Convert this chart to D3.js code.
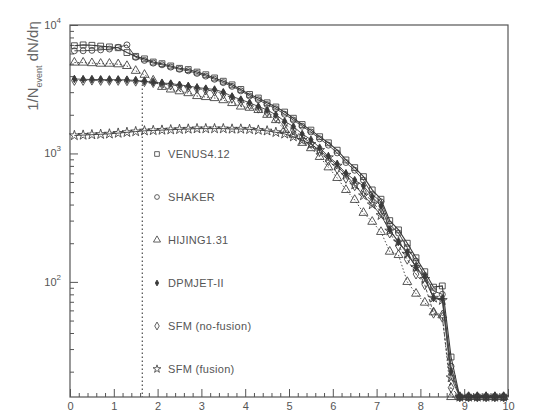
<!DOCTYPE html>
<html>
<head>
<meta charset="utf-8">
<script src="https://cdn.jsdelivr.net/npm/d3@7"></script>
<style>
  body { margin: 0; background: #fff; }
  svg { font-family: "Liberation Sans", "DejaVu Sans", sans-serif; }
</style>
</head>
<body>
<div id="chart"></div>
<script>
// pseudorapidity bins
var eta = [0.1,0.3,0.5,0.7,0.9,1.1,1.3,1.5,1.7,1.9,2.1,2.3,2.5,2.7,2.9,3.1,3.3,3.5,3.7,3.9,
           4.1,4.3,4.5,4.7,4.9,5.1,5.3,5.5,5.7,5.9,6.1,6.3,6.5,6.7,6.9,7.1,7.3,7.5,7.7,7.9,
           8.1,8.3,8.5,8.7,8.9,9.1,9.3,9.5,9.7,9.9];

var venus = [6900,7000,6950,6850,6750,6650,6100,5700,5450,5150,5000,4800,4600,4500,4300,4100,3870,3650,3420,3150,
             2880,2700,2480,2300,2100,1880,1680,1520,1350,1210,1060,890,775,660,520,440,300,254,200,154,
             120,91,93,26,0,0,0,0,0,0];
var shaker = [6300,6300,6350,6400,6500,6700,7000,5600,5300,5050,4900,4700,4520,4400,4200,4000,3780,3560,3330,3070,
              2800,2620,2400,2230,2020,1820,1630,1470,1300,1160,1010,850,740,620,480,420,280,240,185,145,
              112,85,80,22,0,0,0,0,0,0];
var hijing = [5100,5100,5050,5000,5000,4950,4800,4400,4100,3700,3300,3150,3050,2950,2800,2750,2700,2600,2470,2320,
              2270,2180,2000,1820,1530,1400,1210,1100,940,780,645,520,435,345,294,245,172,162,100,81,
              69,58,55,0,0,0,0,0,0,0];
var dpmjet = [3800,3780,3760,3760,3750,3750,3740,3700,3650,3580,3530,3500,3420,3350,3260,3200,3150,3000,2780,2630,
              2480,2320,2180,2000,1780,1620,1420,1280,1110,950,830,700,620,560,460,390,255,205,170,130,
              110,75,74,20,0,0,0,0,0,0];
var sfmNoFusion = [3700,3700,3720,3700,3700,3700,3680,3650,3620,3560,3480,3420,3350,3280,3200,3120,3050,2900,2700,2550,
                   2400,2250,2100,1900,1700,1520,1350,1200,1040,880,760,640,560,500,420,350,240,190,150,115,
                   95,57,53,15,0,0,0,0,0,0];
var sfmFusion = [1380,1390,1400,1410,1420,1440,1460,1480,1500,1510,1520,1530,1540,1550,1560,1560,1560,1560,1550,1550,
                 1540,1520,1500,1460,1420,1350,1270,1180,1060,930,800,680,570,470,400,330,250,205,165,130,
                 105,75,72,18,0,0,0,0,0,0];

var seriesNames = ["VENUS4.12", "SHAKER", "HIJING1.31", "DPMJET-II", "SFM (no-fusion)", "SFM (fusion)"];
var seriesValues = [venus, shaker, hijing, dpmjet, sfmNoFusion, sfmFusion];
var seriesSymbols = ["square", "circle", "triangle", "smalldiamond", "diamond", "star"];
var seriesDash = [null, null, "1.5,2", null, "3,2", null];

var xTicks = [0,1,2,3,4,5,6,7,8,9,10];
var yTicks = [100, 1000, 10000];
var cutEta = 1.65, cutTop = 3700;

var width = 540, height = 415,
    margin = { top: 25, right: 32, bottom: 18, left: 70 };

var svg = d3.select("#chart").append("svg")
    .attr("width", width)
    .attr("height", height);

var x = d3.scaleLinear().domain([0, 10]).range([margin.left, width - margin.right]);
var y = d3.scaleLog().domain([12.7, 10000]).range([height - margin.bottom, margin.top]).clamp(true);
var yv = function(v){ return v > 0 ? y(v) : y.range()[0]; };

var ink = "#3a3a3a";

// frame
svg.append("rect")
    .attr("x", x(0)).attr("y", y(10000))
    .attr("width", x(10) - x(0)).attr("height", y.range()[0] - y(10000))
    .attr("fill", "none").attr("stroke", "#555").attr("stroke-width", 1.2);

// x axis, ticks pointing inward
var minorX = d3.range(0, 10.01, 0.2).filter(function(v){ return Math.abs(v - Math.round(v)) > 1e-6; });
svg.append("g")
    .attr("transform", "translate(0," + y.range()[0] + ")")
    .call(d3.axisBottom(x).tickValues(minorX).tickSize(-4).tickFormat(""))
    .call(function(g){ g.select(".domain").remove(); g.selectAll("line").attr("stroke", "#555"); });
svg.append("g")
    .attr("transform", "translate(0," + y.range()[0] + ")")
    .call(d3.axisBottom(x).tickValues(xTicks).tickSize(-8).tickPadding(5).tickFormat(d3.format("d")))
    .call(function(g){
        g.select(".domain").remove();
        g.selectAll("line").attr("stroke", "#555");
        g.selectAll("text").attr("fill", "#555").style("font-size", "11px");
    });

// y axis, log ticks
var minorY = [];
[10, 100, 1000].forEach(function(p){
    for (var k = 2; k <= 9; k++) if (p * k >= 12.7) minorY.push(p * k);
});
svg.append("g")
    .attr("transform", "translate(" + x(0) + ",0)")
    .call(d3.axisLeft(y).tickValues(minorY).tickSize(-4).tickFormat(""))
    .call(function(g){ g.select(".domain").remove(); g.selectAll("line").attr("stroke", "#555"); });
var yAxisG = svg.append("g")
    .attr("transform", "translate(" + x(0) + ",0)")
    .call(d3.axisLeft(y).tickValues(yTicks).tickSize(-8).tickFormat(""));
yAxisG.select(".domain").remove();
yAxisG.selectAll("line").attr("stroke", "#555");

var yLab = svg.append("g").selectAll("text")
    .data(yTicks).enter().append("text")
    .attr("x", x(0) - 9)
    .attr("y", function(d){ return y(d) + 4; })
    .attr("text-anchor", "end")
    .attr("fill", "#555")
    .style("font-size", "11px");
yLab.append("tspan").text("10");
yLab.append("tspan").attr("dy", -6).style("font-size", "8px")
    .text(function(d){ return Math.round(Math.log10(d)); });

// y title
var yTitle = svg.append("text")
    .attr("transform", "translate(38," + 66 + ") rotate(-90)")
    .attr("text-anchor", "middle")
    .attr("fill", "#666")
    .style("font-size", "15px");
yTitle.append("tspan").text("1/N");
yTitle.append("tspan").attr("dy", 4).style("font-size", "9px").text("event");
yTitle.append("tspan").attr("dy", -4).text(" dN/d\u03B7");

// vertical cut line
svg.append("line")
    .attr("x1", x(cutEta)).attr("x2", x(cutEta))
    .attr("y1", y(cutTop)).attr("y2", y.range()[0])
    .attr("stroke", ink).attr("stroke-width", 1.1)
    .attr("stroke-dasharray", "1.5,2.5");

// symbols
function symbolPath(type) {
    switch (type) {
        case "square": return d3.symbol(d3.symbolSquare, 34)();
        case "circle": return d3.symbol(d3.symbolCircle, 28)();
        case "triangle": return d3.symbol(d3.symbolTriangle, 34)();
        case "smalldiamond": return d3.symbol(d3.symbolDiamond, 16)();
        case "diamond": return d3.symbol(d3.symbolDiamond, 28)();
        case "star": return d3.symbol(d3.symbolStar, 30)();
    }
}

var line = d3.line()
    .defined(function(d){ return d.v != null; })
    .x(function(d){ return x(d.e); })
    .y(function(d){ return yv(d.v); });

var plot = svg.append("g");

seriesValues.forEach(function(vals, i){
    var pts = eta.map(function(e, j){ return { e: e, v: vals[j] }; });
    plot.append("path")
        .datum(pts)
        .attr("fill", "none")
        .attr("stroke", ink)
        .attr("stroke-width", i == 0 ? 1.1 : 0.9)
        .attr("stroke-dasharray", seriesDash[i])
        .attr("d", line);
    plot.selectAll(".m" + i)
        .data(pts.filter(function(d){ return d.v != null; }))
        .enter().append("path")
        .attr("class", "m" + i)
        .attr("transform", function(d){ return "translate(" + x(d.e) + "," + yv(d.v) + ")"; })
        .attr("d", symbolPath(seriesSymbols[i]))
        .attr("fill", seriesSymbols[i] == "smalldiamond" ? ink : "none")
        .attr("stroke", ink)
        .attr("stroke-width", 0.85);
});

// legend
var legend = svg.append("g").selectAll("g")
    .data(seriesNames).enter().append("g")
    .attr("transform", function(d, i){ return "translate(157," + (154 + i * 43) + ")"; });
legend.append("path")
    .attr("d", function(d, i){ return symbolPath(seriesSymbols[i]); })
    .attr("transform", "scale(0.8)")
    .attr("fill", function(d, i){ return seriesSymbols[i] == "smalldiamond" ? ink : "none"; })
    .attr("stroke", ink)
    .attr("stroke-width", 1);
legend.append("text")
    .attr("x", 11)
    .attr("y", 4)
    .attr("fill", "#555")
    .style("font-size", "11px")
    .style("letter-spacing", "0.3px")
    .text(function(d){ return d; });
</script>
</body>
</html>
